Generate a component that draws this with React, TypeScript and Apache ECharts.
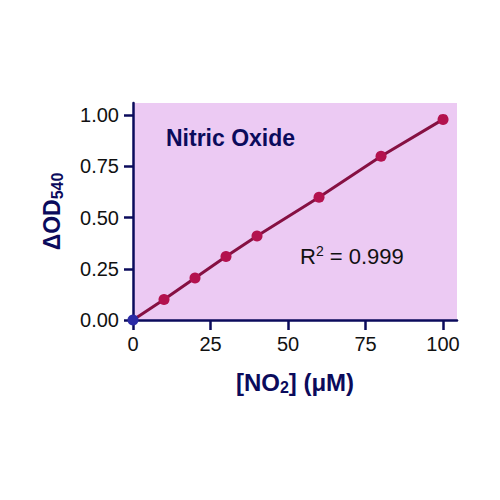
import React, { useEffect, useRef } from 'react';
import * as echarts from 'echarts';

// nitrite standard curve
const concentrations = [0, 10, 20, 30, 40, 60, 80, 100];
const deltaOD = [0, 0.1, 0.205, 0.31, 0.41, 0.6, 0.8, 0.98];
const xTicks = [0, 25, 50, 75, 100];
const yTicks = [0, 0.25, 0.5, 0.75, 1.0];

const NAVY = '#0b0b5c';
const FONT = '"Liberation Sans", Arial, sans-serif';

const App = () => {
    const chartRef = useRef<HTMLDivElement>(null);

    useEffect(() => {
        document.body.style.margin = '0';
        if (!chartRef.current) return;
        const myChart = echarts.init(chartRef.current, null, { renderer: 'svg' });

        const points = concentrations.map((c, i) => {
            if (i === 0) {
                return { value: [c, deltaOD[i]], itemStyle: { color: '#2b2ba6' } };
            }
            return { value: [c, deltaOD[i]] };
        });

        const nameRich = {
            sub: { fontSize: 16, fontWeight: 'bold', color: NAVY, verticalAlign: 'bottom', padding: [10, 0, 0, 0], fontFamily: FONT },
        };

        const option = {
            animation: false,
            backgroundColor: '#ffffff',
            grid: {
                left: 133,
                right: 43,
                top: 103,
                bottom: 180,
                show: true,
                backgroundColor: '#eccaf3',
                borderWidth: 0,
            },
            xAxis: {
                type: 'value',
                min: 0,
                max: 104.5,
                splitLine: { show: false },
                axisLine: { lineStyle: { color: NAVY, width: 2.5 } },
                axisTick: { length: 10, lineStyle: { color: NAVY, width: 2.5 }, customValues: xTicks },
                axisLabel: {
                    customValues: xTicks,
                    color: '#111',
                    fontSize: 20,
                    fontFamily: FONT,
                    margin: 14,
                },
                name: '[NO{sub|2}] (μM)',
                nameLocation: 'middle',
                nameGap: 49,
                nameTextStyle: {
                    color: NAVY,
                    fontSize: 24,
                    fontWeight: 'bold',
                    fontFamily: FONT,
                    rich: nameRich,
                },
            },
            yAxis: {
                type: 'value',
                min: 0,
                max: 1.06,
                splitLine: { show: false },
                axisLine: { lineStyle: { color: NAVY, width: 2.5 } },
                axisTick: { length: 9, lineStyle: { color: NAVY, width: 2.5 }, customValues: yTicks },
                axisLabel: {
                    customValues: yTicks,
                    color: '#111',
                    fontSize: 20,
                    fontFamily: FONT,
                    margin: 14,
                    formatter: (v: number) => v.toFixed(2),
                },
                name: 'ΔOD{sub|540}',
                nameLocation: 'middle',
                nameRotate: 90,
                nameGap: 68,
                nameTextStyle: {
                    color: NAVY,
                    fontSize: 23,
                    fontWeight: 'bold',
                    fontFamily: FONT,
                    rich: nameRich,
                },
            },
            graphic: [
                {
                    type: 'text',
                    left: 166,
                    top: 126,
                    style: {
                        text: 'Nitric Oxide',
                        fill: NAVY,
                        font: 'bold 23px ' + FONT,
                    },
                },
                {
                    type: 'text',
                    left: 300,
                    top: 244,
                    style: {
                        text: 'R{sup|2} = 0.999',
                        fill: '#111',
                        font: '22px ' + FONT,
                        rich: {
                            sup: { fontSize: 14, fill: '#111', verticalAlign: 'top', padding: [0, 0, 10, 0], fontFamily: FONT },
                        },
                    },
                },
            ],
            series: [
                {
                    type: 'line',
                    data: points,
                    symbol: 'circle',
                    symbolSize: 11,
                    itemStyle: { color: '#b3124e' },
                    lineStyle: { color: '#861042', width: 3 },
                    clip: false,
                    z: 3,
                },
            ],
        };

        myChart.setOption(option as any);

        return () => {
            myChart.dispose();
        };
    }, []);

    return <div ref={chartRef} style={{ width: 500, height: 500 }}></div>;
};

export default App;
